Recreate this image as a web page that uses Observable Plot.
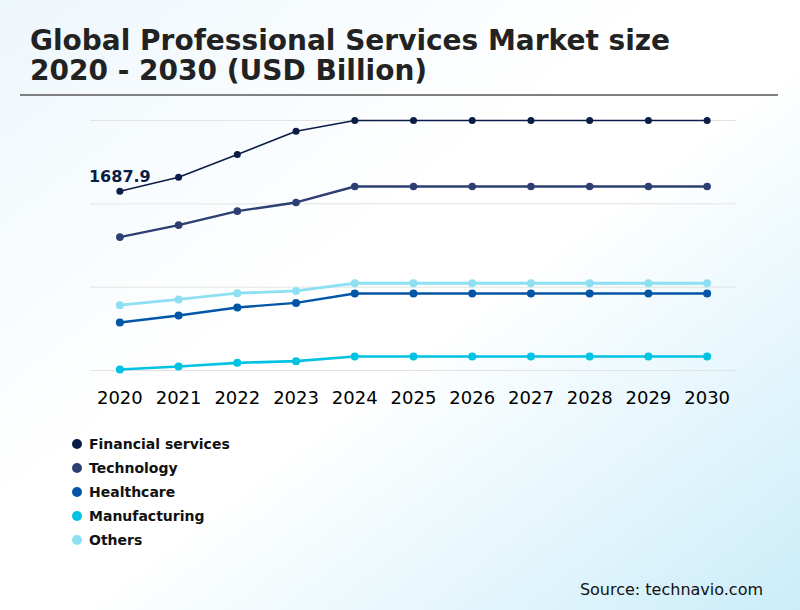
<!DOCTYPE html>
<html>
<head>
<meta charset="utf-8">
<script src="https://cdn.jsdelivr.net/npm/d3@7"></script>
<script src="https://cdn.jsdelivr.net/npm/@observablehq/plot@0.6"></script>
<style>
  html, body { margin: 0; padding: 0; }
  body {
    width: 800px; height: 610px; position: relative; overflow: hidden;
    font-family: "DejaVu Sans", sans-serif;
    background: linear-gradient(to bottom right, #eef7fc 0%, #ffffff 42%, #ffffff 55%, #cbedf9 100%);
  }
  #title {
    position: absolute; left: 30px; top: 26px;
    font-size: 28px; font-weight: bold; color: #222; line-height: 30px;
  }
  #rule { position: absolute; left: 20px; top: 94px; width: 758px; height: 2px; background: #808080; }
  #chart { position: absolute; left: 0; top: 100px; }
  #legend { position: absolute; left: 72px; top: 432px; }
  .item { height: 24px; display: flex; align-items: center; font-size: 14px; font-weight: bold; color: #111; }
  .sw { width: 10px; height: 10px; border-radius: 50%; margin-right: 7px; }
  #source { position: absolute; right: 37px; top: 580px; font-size: 16px; color: #111; line-height: 20px; }
</style>
</head>
<body>
<div id="title">Global Professional Services Market size<br>2020 - 2030 (USD Billion)</div>
<div id="rule"></div>
<div id="chart"></div>
<div id="legend"></div>
<div id="source">Source: technavio.com</div>
<script>
const years = [2020, 2021, 2022, 2023, 2024, 2025, 2026, 2027, 2028, 2029, 2030];
const segments = ["Financial services", "Technology", "Healthcare", "Manufacturing", "Others"];
const colors = ["#0b1d46", "#2d3f72", "#0356a6", "#00c2e2", "#8ce0f2"];
const financial = [1687.9, 1821, 2035, 2254, 2355, 2355, 2355, 2355, 2355, 2355, 2355];
const technology = [1256, 1369, 1501, 1583, 1733, 1733, 1733, 1733, 1733, 1733, 1733];
const healthcare = [452, 518, 594, 637, 725, 725, 725, 725, 725, 725, 725];
const manufacturing = [9, 38, 72, 88, 132, 132, 132, 132, 132, 132, 132];
const others = [615, 669, 728, 750, 822, 822, 822, 822, 822, 822, 822];
const gridTicks = [0, 785, 1570, 2355];
const annotation = [{year: 2020, value: 1687.9, label: "1687.9"}];

const seriesValues = [financial, technology, healthcare, manufacturing, others];
const widths = [1.6, 2.4, 2.4, 2.6, 2.8];
const radii = [3.5, 3.8, 4, 4, 4];

const marks = [
  Plot.ruleY(gridTicks, {stroke: "#e3e3e3", strokeWidth: 1})
];
[4, 3, 2, 1, 0].forEach(i => {
  const data = years.map((y, j) => ({year: y, value: seriesValues[i][j]}));
  marks.push(Plot.line(data, {x: "year", y: "value", stroke: colors[i], strokeWidth: widths[i]}));
  marks.push(Plot.dot(data, {x: "year", y: "value", fill: colors[i], r: radii[i]}));
});
marks.push(Plot.text(annotation, {x: "year", y: "value", text: "label", dy: -9, lineAnchor: "bottom",
  textAnchor: "middle", fontSize: 16, fontWeight: "bold", fill: "#0b1d46"}));
marks.push(Plot.axisX({tickSize: 0, tickPadding: 21, fontSize: 18, fill: "#000", tickFormat: d => `${d}`, label: null}));

const chart = Plot.plot({
  width: 800,
  height: 320,
  marginTop: 20,
  marginBottom: 50,
  marginLeft: 90,
  marginRight: 64,
  style: {background: "transparent", fontFamily: "DejaVu Sans", color: "#000", overflow: "visible"},
  x: {type: "point", domain: years, padding: 0.5, round: false},
  y: {domain: [0, 2355], axis: null},
  marks
});
document.getElementById("chart").appendChild(chart);

const legend = document.getElementById("legend");
segments.forEach((s, i) => {
  const row = document.createElement("div");
  row.className = "item";
  const sw = document.createElement("span");
  sw.className = "sw";
  sw.style.background = colors[i];
  row.appendChild(sw);
  row.appendChild(document.createTextNode(s));
  legend.appendChild(row);
});
</script>
</body>
</html>
